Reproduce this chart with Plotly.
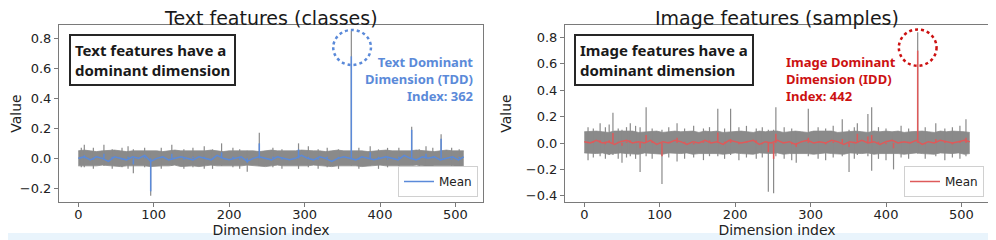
import plotly.graph_objects as go

# sampled dimension indices (every 8 dims) for the baseline band / mean
dims = list(range(0, 505, 8)) + [511]

# ---- text features (left) ----
text_mean = [0.00, 0.01, -0.01, 0.01, 0.00, -0.02, 0.01, 0.00, -0.01, 0.01,
             0.00, 0.02, -0.02, 0.00, 0.01, -0.01, 0.00, 0.01, 0.00, -0.01,
             0.01, 0.00, -0.01, 0.02, 0.00, -0.01, 0.00, 0.01, -0.02, 0.00,
             0.01, 0.00, -0.01, 0.01, 0.00, -0.01, 0.00, 0.02, 0.00, -0.01,
             0.01, 0.00, -0.02, 0.00, 0.01, 0.00, -0.01, 0.01, 0.00, -0.01,
             0.00, 0.01, 0.00, -0.01, 0.02, 0.00, -0.01, 0.01, 0.00, 0.01,
             -0.01, 0.00, 0.01, -0.01, 0.01]
text_hi = [0.05, 0.055, 0.05, 0.045, 0.05, 0.055, 0.055, 0.05, 0.045, 0.05,
           0.05, 0.055, 0.05, 0.05, 0.045, 0.05, 0.055, 0.05, 0.05, 0.045,
           0.05, 0.05, 0.055, 0.05, 0.045, 0.05, 0.05, 0.055, 0.05, 0.05,
           0.045, 0.05, 0.055, 0.05, 0.05, 0.045, 0.05, 0.055, 0.05, 0.05,
           0.05, 0.045, 0.05, 0.055, 0.05, 0.05, 0.055, 0.05, 0.045, 0.05,
           0.05, 0.055, 0.05, 0.05, 0.045, 0.05, 0.055, 0.05, 0.05, 0.045,
           0.05, 0.055, 0.05, 0.05, 0.05]
text_lo = [-0.05, -0.05, -0.055, -0.05, -0.045, -0.05, -0.05, -0.055, -0.05, -0.05,
           -0.045, -0.05, -0.055, -0.05, -0.05, -0.05, -0.045, -0.055, -0.05, -0.05,
           -0.055, -0.05, -0.045, -0.05, -0.05, -0.055, -0.05, -0.05, -0.045, -0.05,
           -0.05, -0.055, -0.05, -0.045, -0.05, -0.05, -0.055, -0.05, -0.05, -0.045,
           -0.05, -0.05, -0.055, -0.05, -0.05, -0.045, -0.05, -0.055, -0.05, -0.05,
           -0.045, -0.05, -0.05, -0.055, -0.05, -0.05, -0.045, -0.05, -0.055, -0.05,
           -0.05, -0.045, -0.05, -0.055, -0.05]
text_spike_dims = [4, 8, 20, 34, 45, 58, 66, 73, 88, 96, 110, 124, 140, 152, 167, 178,
                   190, 205, 214, 224, 240, 258, 270, 292, 305, 318, 330, 345, 362,
                   372, 387, 398, 410, 425, 442, 452, 461, 470, 481, 495, 505]
text_spike_mean = [0.01, 0.02, -0.01, 0.03, 0.01, -0.01, 0.01, -0.04, 0.01, -0.22,
                   0.01, 0.03, -0.01, 0.01, 0.01, -0.01, 0.04, 0.01, -0.01, -0.03,
                   0.10, 0.01, -0.01, 0.06, 0.01, -0.01, 0.01, 0.01, 0.68,
                   -0.01, 0.04, 0.01, -0.01, 0.01, 0.19, -0.01, 0.03, 0.01, 0.13, -0.01, 0.01]
text_spike_hi = [0.07, 0.09, 0.07, 0.09, 0.06, 0.07, 0.08, 0.06, 0.07, 0.04,
                 0.07, 0.09, 0.06, 0.07, 0.08, 0.06, 0.10, 0.07, 0.06, 0.05,
                 0.17, 0.07, 0.06, 0.10, 0.08, 0.06, 0.07, 0.06, 0.85,
                 0.07, 0.08, 0.06, 0.07, 0.07, 0.21, 0.06, 0.08, 0.07, 0.16, 0.07, 0.06]
text_spike_lo = [-0.06, -0.06, -0.07, -0.05, -0.07, -0.06, -0.07, -0.10, -0.06, -0.25,
                 -0.07, -0.05, -0.07, -0.06, -0.07, -0.07, -0.05, -0.06, -0.07, -0.09,
                 -0.05, -0.06, -0.07, -0.07, -0.06, -0.07, -0.06, -0.07, -0.05,
                 -0.07, -0.05, -0.07, -0.06, -0.07, -0.04, -0.07, -0.05, -0.06, -0.04, -0.07, -0.07]

# ---- image features (right) ----
img_mean = [0.01, 0.00, 0.02, 0.00, 0.01, -0.01, 0.01, 0.02, 0.00, 0.01,
            0.00, 0.02, -0.01, 0.01, 0.00, 0.02, 0.01, -0.01, 0.01, 0.00,
            0.02, 0.00, 0.01, -0.01, 0.02, 0.01, 0.00, 0.01, 0.02, -0.01,
            0.01, 0.00, 0.02, 0.00, 0.01, -0.01, 0.01, 0.02, 0.00, 0.01,
            0.00, 0.02, 0.01, -0.01, 0.01, 0.00, 0.02, 0.00, 0.01, -0.01,
            0.01, 0.02, 0.00, 0.01, 0.00, 0.02, -0.01, 0.01, 0.00, 0.02,
            0.01, 0.00, 0.01, 0.02, 0.01]
img_hi = [0.085, 0.09, 0.09, 0.085, 0.08, 0.09, 0.09, 0.085, 0.09, 0.08,
          0.085, 0.09, 0.09, 0.08, 0.085, 0.09, 0.085, 0.09, 0.09, 0.08,
          0.09, 0.085, 0.09, 0.08, 0.085, 0.09, 0.09, 0.085, 0.08, 0.09,
          0.085, 0.09, 0.09, 0.08, 0.085, 0.09, 0.085, 0.08, 0.09, 0.09,
          0.085, 0.09, 0.08, 0.085, 0.09, 0.09, 0.085, 0.08, 0.09, 0.085,
          0.09, 0.085, 0.09, 0.08, 0.085, 0.09, 0.09, 0.085, 0.08, 0.09,
          0.085, 0.09, 0.09, 0.085, 0.08]
img_lo = [-0.075, -0.08, -0.08, -0.075, -0.085, -0.08, -0.075, -0.08, -0.08, -0.085,
          -0.075, -0.08, -0.08, -0.085, -0.075, -0.08, -0.08, -0.075, -0.085, -0.08,
          -0.08, -0.075, -0.08, -0.085, -0.08, -0.075, -0.08, -0.08, -0.085, -0.075,
          -0.08, -0.08, -0.075, -0.085, -0.08, -0.08, -0.075, -0.08, -0.085, -0.08,
          -0.075, -0.08, -0.08, -0.085, -0.075, -0.08, -0.08, -0.075, -0.085, -0.08,
          -0.08, -0.075, -0.08, -0.085, -0.08, -0.075, -0.08, -0.08, -0.085, -0.075,
          -0.08, -0.08, -0.075, -0.085, -0.08]
img_spike_dims = [5, 12, 21, 28, 33, 38, 45, 50, 56, 61, 68, 74, 82, 90, 103, 112, 123,
                  133, 145, 158, 166, 177, 186, 194, 205, 215, 228, 236, 244, 251, 254,
                  265, 275, 281, 297, 310, 320, 330, 342, 351, 358, 362, 376, 381, 390,
                  400, 410, 420, 430, 442, 452, 466, 478, 488, 498, 506]
img_spike_mean = [0.01, 0.01, 0.02, -0.01, 0.02, 0.075, 0.01, -0.02, 0.01, 0.02, 0.01,
                  -0.04, 0.06, 0.01, -0.10, 0.01, 0.04, 0.01, -0.01, 0.01, 0.02, 0.08,
                  0.01, 0.03, -0.01, 0.01, 0.02, -0.01, -0.07, -0.12, 0.07,
                  0.01, -0.01, -0.03, 0.04, 0.01, -0.01, 0.01, 0.03, -0.03, 0.01, 0.07,
                  0.05, 0.06, 0.01, -0.01, -0.04, 0.01, 0.01, 0.70, -0.01, 0.03, 0.01,
                  -0.01, 0.01, 0.04]
img_spike_hi = [0.12, 0.11, 0.15, 0.12, 0.14, 0.23, 0.11, 0.10, 0.12, 0.15, 0.13,
                0.12, 0.27, 0.11, 0.10, 0.12, 0.15, 0.11, 0.13, 0.11, 0.12, 0.26,
                0.11, 0.26, 0.12, 0.13, 0.11, 0.12, 0.10, 0.10, 0.27,
                0.12, 0.11, 0.08, 0.26, 0.12, 0.11, 0.13, 0.18, 0.10, 0.12, 0.15,
                0.22, 0.27, 0.12, 0.11, 0.08, 0.13, 0.11, 0.84, 0.12, 0.15, 0.11,
                0.12, 0.13, 0.18]
img_spike_lo = [-0.13, -0.11, -0.10, -0.12, -0.09, -0.09, -0.12, -0.15, -0.11, -0.10, -0.12,
                -0.22, -0.10, -0.12, -0.31, -0.11, -0.14, -0.12, -0.11, -0.13, -0.10, -0.10,
                -0.12, -0.09, -0.13, -0.11, -0.12, -0.11, -0.37, -0.38, -0.10,
                -0.12, -0.13, -0.15, -0.10, -0.12, -0.13, -0.11, -0.10, -0.22, -0.12, -0.09,
                -0.10, -0.21, -0.12, -0.13, -0.20, -0.11, -0.12, -0.08, -0.12, -0.10, -0.13,
                -0.11, -0.12, -0.10]

GRAY = "#8a8a8a"
BLUE = "#5b8ad9"
RED = "#de5a5a"
DARKRED = "#cc1111"


def segs(xs, lo, hi):
    X, Y = [], []
    for x, a, b in zip(xs, lo, hi):
        X += [x, x, None]
        Y += [a, b, None]
    return X, Y


def add_panel(fig, xa, ya, mean, hi, lo, sd, sm, sh, sl, color, legend):
    fig.add_trace(go.Scatter(x=dims, y=hi, xaxis=xa, yaxis=ya, mode="lines",
                             line=dict(color=GRAY, width=0.8), showlegend=False))
    fig.add_trace(go.Scatter(x=dims, y=lo, xaxis=xa, yaxis=ya, mode="lines",
                             line=dict(color=GRAY, width=0.8), fill="tonexty",
                             fillcolor=GRAY, showlegend=False))
    gx, gy = segs(sd, sl, sh)
    fig.add_trace(go.Scatter(x=gx, y=gy, xaxis=xa, yaxis=ya, mode="lines",
                             line=dict(color=GRAY, width=1.2), showlegend=False))
    fig.add_trace(go.Scatter(x=dims, y=mean, xaxis=xa, yaxis=ya, mode="lines",
                             line=dict(color=color, width=1.5), name="Mean",
                             legend=legend))
    mx, my = segs(sd, [0.0] * len(sd), sm)
    fig.add_trace(go.Scatter(x=mx, y=my, xaxis=xa, yaxis=ya, mode="lines",
                             line=dict(color=color, width=1.5), showlegend=False))


fig = go.Figure()
add_panel(fig, "x", "y", text_mean, text_hi, text_lo, text_spike_dims,
          text_spike_mean, text_spike_hi, text_spike_lo, BLUE, "legend")
add_panel(fig, "x2", "y2", img_mean, img_hi, img_lo, img_spike_dims,
          img_spike_mean, img_spike_hi, img_spike_lo, RED, "legend2")

FONT = "DejaVu Sans"
SPINE = "#7a7a7a"
ax = dict(showline=True, mirror=True, linecolor=SPINE, linewidth=1, showgrid=False,
          zeroline=False, ticks="outside", ticklen=4, tickcolor=SPINE, automargin=False,
          tickfont=dict(family=FONT, size=13, color="#222"))
xax = dict(ax, range=[-25.55, 536.55], tickvals=[0, 100, 200, 300, 400, 500],
           ticklabelstandoff=-4,
           title=dict(text="Dimension index", font=dict(family=FONT, size=14, color="#222"),
                      standoff=3))
yt = dict(text="Value", font=dict(family=FONT, size=14, color="#222"), standoff=10)

# the page body sits 8 px in from the window corner; size the figure so the
# window (996x240) is filled and page coordinates match the reference
OFF = 8
W, H = 996 - OFF, 240 - OFF
L, R, T, B = 59 - OFF, 7, 25 - OFF, 38
pw, ph = W - L - R, H - T - B


def px(x):  # window pixel -> paper x
    return (x - OFF - L) / pw


def py(y):  # window pixel -> paper y
    return (H - B - (y - OFF)) / ph


fig.update_layout(
    width=W, height=H, margin=dict(l=L, r=R, t=T, b=B, autoexpand=False),
    paper_bgcolor="#e9f4fc", plot_bgcolor="white",
    xaxis=dict(xax, domain=[0, px(483)], anchor="y"),
    yaxis=dict(ax, domain=[0, 1], anchor="x", range=[-0.291, 0.889],
               tickvals=[-0.2, 0, 0.2, 0.4, 0.6, 0.8], tickformat=".1f", title=yt),
    xaxis2=dict(xax, domain=[px(565), 1], anchor="y2"),
    yaxis2=dict(ax, domain=[0, 1], anchor="x2", range=[-0.447, 0.894],
                tickvals=[-0.4, -0.2, 0, 0.2, 0.4, 0.6, 0.8], tickformat=".1f", title=yt),
    legend=dict(x=px(478), y=py(197), xanchor="right", yanchor="bottom",
                bgcolor="white", bordercolor="#d0d0d0", borderwidth=1,
                font=dict(family=FONT, size=12, color="#222")),
    legend2=dict(x=px(984), y=py(197), xanchor="right", yanchor="bottom",
                 bgcolor="white", bordercolor="#d0d0d0", borderwidth=1,
                 font=dict(family=FONT, size=12, color="#222")),
    showlegend=True,
)

# white page inside the pale frame (right and bottom edges stay pale)
fig.add_shape(type="rect", xref="paper", yref="paper", x0=px(0), x1=px(993),
              y0=py(233), y1=py(0), fillcolor="white", line_width=0, layer="below")

# dotted circles around the dominant dimension
fig.add_shape(type="circle", xref="x", yref="y", x0=338, x1=388, y0=0.622, y1=0.856,
              line=dict(color=BLUE, width=2.5, dash="dot"))
fig.add_shape(type="circle", xref="x2", yref="y2", x0=417, x1=467, y0=0.585, y1=0.86,
              line=dict(color=DARKRED, width=2.5, dash="dot"))

TFONT = dict(family=FONT, size=19, color="#1a1a1a")
fig.add_annotation(text="Text features (classes)", xref="paper", yref="paper",
                   x=px(271), y=py(18.5), xanchor="center", yanchor="middle",
                   showarrow=False, font=TFONT)
fig.add_annotation(text="Image features (samples)", xref="paper", yref="paper",
                   x=px(777), y=py(18.5), xanchor="center", yanchor="middle",
                   showarrow=False, font=TFONT)

BOXFONT = dict(family="Noto Sans", size=15, color="#1a1a1a")
fig.add_annotation(text="<b>Text features have a<br>dominant dimension</b>",
                   xref="paper", yref="paper", x=px(69), y=py(34), xanchor="left",
                   yanchor="top", align="left", showarrow=False, font=BOXFONT,
                   bgcolor="white", bordercolor="#262626", borderwidth=2, borderpad=4)
fig.add_annotation(text="<b>Image features have a<br>dominant dimension</b>",
                   xref="paper", yref="paper", x=px(574), y=py(34), xanchor="left",
                   yanchor="top", align="left", showarrow=False, font=BOXFONT,
                   bgcolor="white", bordercolor="#262626", borderwidth=2, borderpad=4)

fig.add_annotation(text="<b>Text Dominant<br>Dimension (TDD)<br>Index: 362</b>",
                   xref="paper", yref="paper", x=px(475), y=py(51), xanchor="right",
                   yanchor="top", align="right", showarrow=False,
                   font=dict(family="Noto Sans", size=13, color=BLUE))
fig.add_annotation(text="<b>Image Dominant<br>Dimension (IDD)<br>Index: 442</b>",
                   xref="paper", yref="paper", x=px(784), y=py(51), xanchor="left",
                   yanchor="top", align="left", showarrow=False,
                   font=dict(family="Noto Sans", size=13, color=DARKRED))

fig.write_html("out.html")
